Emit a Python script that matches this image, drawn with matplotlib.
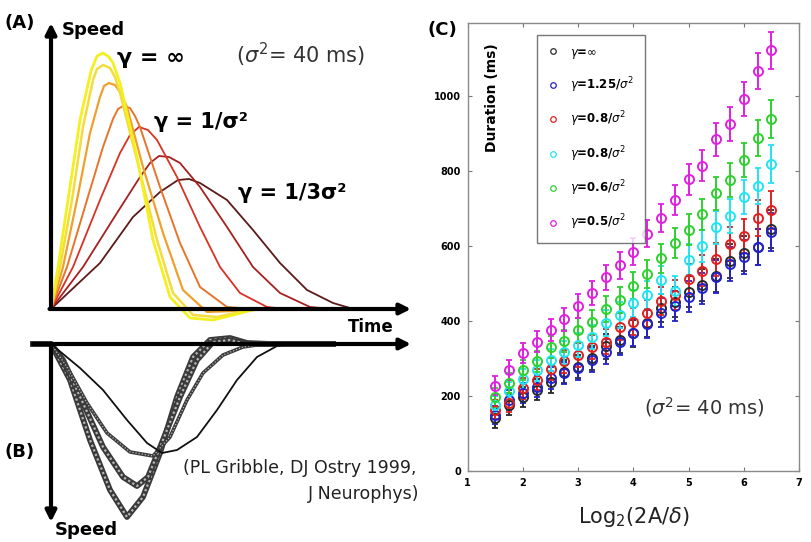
import matplotlib
matplotlib.use("Agg")
import matplotlib.pyplot as plt
from matplotlib.lines import Line2D

W, H = 811, 542
fig = plt.figure(figsize=(W / 100, H / 100), dpi=100)


def fx(px):
    return px / W


def fy(py):
    return 1 - py / H


# ---------------- Panel A: model speed profiles (time, speed) ----------------
a_t_inf = [0, 7, 17, 29, 40, 46, 52, 58, 62, 69, 86, 102, 119, 139, 162, 182, 205]
a_v_inf = [0, 42, 109, 189, 238, 253, 256, 252, 246, 226, 152, 69, 12, -9, -11, -6, 0]
a_t_2 = [0, 9, 21, 32, 42, 46, 52, 59, 64, 69, 86, 106, 122, 142, 166, 189, 210]
a_v_2 = [0, 42, 109, 182, 229, 240, 244, 241, 232, 216, 149, 69, 16, -6, -8, -3, 0]
a_t_3 = [0, 12, 26, 39, 49, 53, 58, 64, 69, 76, 92, 112, 132, 156, 182, 202]
a_v_3 = [0, 42, 109, 176, 212, 223, 226, 224, 217, 202, 142, 76, 19, -3, -2, 0]
a_t_4 = [0, 16, 36, 52, 62, 67, 72, 79, 84, 89, 109, 129, 149, 176, 200]
a_v_4 = [0, 42, 109, 162, 190, 200, 203, 201, 193, 182, 122, 66, 22, 2, 0]
a_t_5 = [0, 22, 49, 69, 79, 88, 97, 106, 126, 149, 169, 189, 216, 235]
a_v_5 = [0, 42, 109, 156, 174, 182, 179, 169, 132, 82, 42, 16, 2, 0]
a_t_6 = [0, 32, 66, 89, 99, 108, 118, 129, 149, 176, 202, 229, 259, 280]
a_v_6 = [0, 42, 96, 132, 146, 153, 152, 146, 122, 82, 42, 16, 2, 0]
a_t_7 = [0, 49, 82, 109, 127, 138, 149, 176, 202, 229, 256, 282, 299, 320]
a_v_7 = [0, 46, 92, 117, 129, 130, 126, 109, 79, 46, 19, 6, 1, 0]
a_colors = ["#f4f020", "#f3dc3c", "#f0a02c", "#e8742a", "#d83222", "#a62020", "#5c1a18"]
a_widths = [2.0, 1.8, 1.6, 1.4, 1.3, 1.3, 1.3]

# ---------------- Panel B: measured profiles (Gribble & Ostry) ----------------
b_t_deep = [-18, 0, 19, 39, 59, 76, 92, 109, 126, 142, 159, 179, 196, 219, 282]
b_v_deep = [0, 0, -36, -96, -146, -173, -153, -109, -53, -13, 4, 6, 1, 0, 0]
b_t_mid = [-18, 0, 12, 32, 52, 72, 86, 97, 112, 129, 146, 162, 179, 196, 282]
b_v_mid = [0, 0, -16, -59, -103, -133, -142, -133, -96, -53, -16, 2, 4, 0, 0]
b_t_med = [0, 16, 36, 56, 79, 102, 119, 136, 152, 172, 192, 212, 282]
b_v_med = [0, -23, -59, -89, -108, -112, -93, -56, -29, -11, -3, 0, 0]
b_t_thin = [0, 29, 52, 76, 96, 111, 126, 146, 166, 186, 206, 226, 239]
b_v_thin = [0, -24, -46, -76, -99, -109, -106, -93, -66, -36, -13, -2, 0]

# ---------------- Panel C: durations ----------------
c_x = [1.5, 1.75, 2.0, 2.25, 2.5, 2.75, 3.0, 3.25, 3.5, 3.75, 4.0,
       4.25, 4.5, 4.75, 5.0, 5.25, 5.5, 5.75, 6.0, 6.25, 6.5]
dur_inf = [140, 176, 198, 216, 238, 265, 278, 300, 332, 349, 367,
           394, 434, 450, 478, 496, 520, 560, 580, 598, 645]
dur_125 = [149, 189, 207, 225, 247, 261, 274, 296, 318, 345, 369,
           391, 422, 440, 465, 487, 518, 551, 570, 596, 637]
dur_09 = [163, 182, 220, 243, 271, 292, 309, 331, 345, 385, 398,
          420, 453, 470, 512, 534, 564, 605, 627, 674, 696]
dur_08 = [176, 212, 245, 268, 296, 316, 336, 358, 394, 416, 447,
          469, 509, 480, 563, 600, 650, 680, 731, 761, 819]
dur_06 = [196, 234, 269, 293, 331, 347, 376, 398, 432, 456, 494,
          525, 567, 609, 643, 684, 740, 776, 829, 887, 938]
dur_05 = [227, 269, 314, 345, 376, 404, 440, 474, 516, 548, 585,
          633, 674, 723, 778, 814, 884, 925, 992, 1065, 1121]
dur_err = [25, 26, 27, 28, 29, 30, 31, 32, 34, 35, 36,
           37, 38, 40, 41, 42, 44, 45, 46, 48, 50]
c_labels = [r"$\gamma$=$\infty$", r"$\gamma$=1.25/$\sigma^2$", r"$\gamma$=0.8/$\sigma^2$",
            r"$\gamma$=0.8/$\sigma^2$", r"$\gamma$=0.6/$\sigma^2$", r"$\gamma$=0.5/$\sigma^2$"]
c_colors = ["#2a2a2a", "#2323cc", "#e02020", "#22e4f0", "#2ed02e", "#e020e0"]
c_yticks = [0, 200, 400, 600, 800, 1000]
c_xticks = [1, 2, 3, 4, 5, 6, 7]

# ===== Panel A axes (1 unit = 1 px) =====
axA = fig.add_axes([fx(51), fy(309), 360 / W, 284 / H])
axA.set_xlim(0, 360)
axA.set_ylim(0, 284)
axA.axis("off")
a_ts = [a_t_inf, a_t_2, a_t_3, a_t_4, a_t_5, a_t_6, a_t_7]
a_vs = [a_v_inf, a_v_2, a_v_3, a_v_4, a_v_5, a_v_6, a_v_7]
for t, v, c, lw in reversed(list(zip(a_ts, a_vs, a_colors, a_widths))):
    axA.plot(t, v, color=c, lw=lw, clip_on=False, solid_joinstyle="round")
arr = dict(arrowstyle="-|>", lw=3, color="k", mutation_scale=16, shrinkA=0, shrinkB=0)
axA.annotate("", xy=(0, 286), xytext=(0, 0), arrowprops=arr, annotation_clip=False)
axA.annotate("", xy=(360, 0), xytext=(-1.5, 0), arrowprops=arr, annotation_clip=False)

# ===== Panel B axes =====
axB = fig.add_axes([fx(51), fy(524), 360 / W, 180 / H])
axB.set_xlim(0, 360)
axB.set_ylim(-180, 0)
axB.axis("off")
for t, v in [(b_t_deep, b_v_deep), (b_t_mid, b_v_mid)]:
    axB.plot(t, v, color="#3a3a3a", lw=4.2, clip_on=False)
    axB.plot(t, v, color="#b8b8b8", lw=1.6, ls=(0, (1, 1.2)), clip_on=False)
axB.plot(b_t_med, b_v_med, color="#3a3a3a", lw=2.6, clip_on=False)
axB.plot(b_t_med, b_v_med, color="#bbbbbb", lw=0.9, ls=(0, (1, 1.5)), clip_on=False)
axB.plot(b_t_thin, b_v_thin, color="#111111", lw=1.3, clip_on=False)
axB.annotate("", xy=(360, 0), xytext=(-18, 0), arrowprops=arr, annotation_clip=False)
axB.annotate("", xy=(0, -178), xytext=(0, 0), arrowprops=arr, annotation_clip=False)

# ===== Panel A/B texts =====
bold = dict(fontweight="bold", color="k")
fig.text(fx(4), fy(23), "(A)", fontsize=13, va="center", ha="left", **bold)
fig.text(fx(62), fy(30), "Speed", fontsize=13, va="center", ha="left", **bold)
fig.text(fx(117), fy(58), "γ = ∞", fontsize=16, va="center", ha="left", **bold)
fig.text(fx(236), fy(55), r"($\sigma^2$= 40 ms)", fontsize=15, va="center", ha="left",
         color="#333333")
fig.text(fx(154), fy(122), "γ = 1/σ²", fontsize=15, va="center", ha="left", **bold)
fig.text(fx(238), fy(193), "γ = 1/3σ²", fontsize=15, va="center", ha="left", **bold)
fig.text(fx(348), fy(327), "Time", fontsize=12, va="center", ha="left", **bold)
fig.text(fx(4), fy(452), "(B)", fontsize=13, va="center", ha="left", **bold)
fig.text(fx(55), fy(530), "Speed", fontsize=13, va="center", ha="left", **bold)
fig.text(fx(183), fy(468), "(PL Gribble, DJ Ostry 1999,", fontsize=12.5, va="center",
         ha="left", color="#222222")
fig.text(fx(419), fy(494), "J Neurophys)", fontsize=12.5, va="center", ha="right",
         color="#222222")
fig.text(fx(428), fy(30), "(C)", fontsize=13, va="center", ha="left", **bold)

# ===== Panel C =====
axC = fig.add_axes([fx(467.7), fy(471), (799 - 467.7) / W, (471 - 22.7) / H])
series = [dur_inf, dur_125, dur_09, dur_08, dur_06, dur_05]
for y, c in zip(series, c_colors):
    axC.errorbar(c_x, y, yerr=dur_err, fmt="none", ecolor=c, elinewidth=1.4,
                 capsize=2.5, capthick=1.3)
for y, c, lab in zip(series, c_colors, c_labels):
    axC.plot(c_x, y, ls="none", marker="o", ms=6.5, mfc="none", mec=c, mew=1.4)
axC.set_xlim(1, 7)
axC.set_ylim(0, 1195)
axC.set_xticks(c_xticks)
axC.set_yticks(c_yticks)
axC.set_xticklabels([str(v) for v in c_xticks], fontsize=7, fontweight="bold")
axC.set_yticklabels([str(v) for v in c_yticks], fontsize=7, fontweight="bold")
axC.tick_params(direction="in", top=True, right=True, length=3, color="#777777", pad=5)
for s in axC.spines.values():
    s.set_color("#8a8a8a")
    s.set_linewidth(1.0)
axC.text(1.44, 995, "Duration (ms)", rotation=90, ha="center", va="center",
         fontsize=10, fontweight="bold")
axC.text(4.2, 170, r"($\sigma^2$= 40 ms)", fontsize=14, ha="left", va="center",
         color="#333333")
axC.set_xlabel(r"Log$_2$(2A/$\delta$)", fontsize=15, labelpad=12, color="#222222")

handles = [Line2D([], [], ls="none", marker="o", ms=4, mfc="none", mec=c, mew=0.9)
           for c in c_colors]
leg = axC.legend(handles, c_labels, loc="upper left", bbox_to_anchor=(0.209, 0.9726),
                 borderaxespad=0, labelspacing=1.25, handlelength=1.0,
                 handletextpad=0.9, borderpad=0.9, fancybox=False, frameon=True,
                 prop=dict(weight="bold", size=8.5))
leg.get_frame().set_edgecolor("#555555")
leg.get_frame().set_linewidth(1.0)

fig.savefig("out.png", dpi=100, facecolor="white")
